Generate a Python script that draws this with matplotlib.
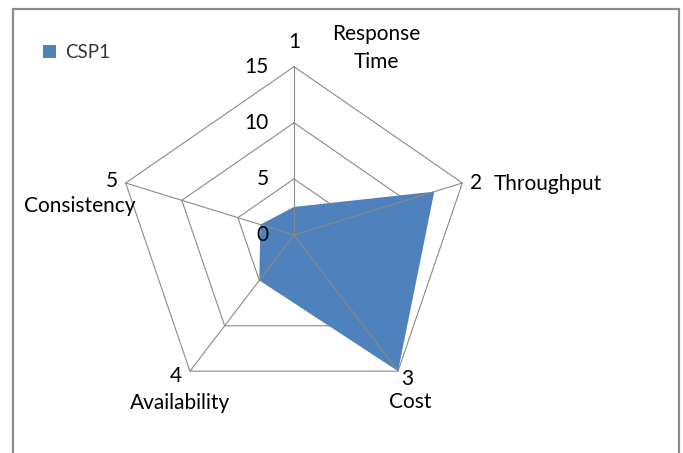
import numpy as np
import matplotlib
matplotlib.use('Agg')
import matplotlib.pyplot as plt
from matplotlib.patches import Rectangle

# datos
categorias = ['Response\nTime', 'Throughput', 'Cost', 'Availability', 'Consistency']
ejes = ['1', '2', '3', '4', '5']
csp1 = [2.5, 12.5, 15, 5, 3]
ticks = [0, 5, 10, 15]

plt.rcParams['font.family'] = ['Lato', 'DejaVu Sans']

W, H = 683, 453
fig = plt.figure(figsize=(W / 100, H / 100), dpi=100)
ax = fig.add_axes([0, 0, 1, 1])
ax.axis('off')

# escala en pixeles (la imagen original esta algo estirada en horizontal)
cx, cy = 294, 218          # centro desde abajo-izquierda
px_y = 168.3 / 15
px_x = 177.0 / 15
ax.set_xlim(-cx / px_x, (W - cx) / px_x)
ax.set_ylim(-cy / px_y, (H - cy) / px_y)

n = len(categorias)
ang = np.pi / 2 - 2 * np.pi * np.arange(n) / n
gris = '#8a8a8a'
azul = '#4f81bd'
fs = 15

# anillos
rmax = max(ticks)
for t in ticks[1:]:
    xs = np.append(t * np.cos(ang), t * np.cos(ang[0]))
    ys = np.append(t * np.sin(ang), t * np.sin(ang[0]))
    ax.plot(xs, ys, color=gris, lw=0.8, zorder=1)

# serie
v = np.array(csp1, dtype=float)
ax.fill(v * np.cos(ang), v * np.sin(ang), color=azul, lw=0, zorder=2, label='CSP1')

# radios
for a in ang:
    ax.plot([0, rmax * np.cos(a)], [0, rmax * np.sin(a)], color=gris, lw=0.8, zorder=3)

# etiquetas de ticks
for t in ticks:
    ax.annotate(str(t), (0, t), xytext=(-25, 0), textcoords='offset pixels',
                ha='right', va='center', fontsize=fs, color='black')

# numeros de eje y nombres
off_num = [(0, 25), (14, 0), (9, -8), (-14, -5), (-14, 2)]
off_cat = [(82, 19), (31, -1), (12, -31), (-10, -32), (-46, -23)]
ha_cat = ['center', 'left', 'center', 'center', 'center']
for i in range(n):
    xv, yv = rmax * np.cos(ang[i]), rmax * np.sin(ang[i])
    ax.annotate(ejes[i], (xv, yv), xytext=off_num[i], textcoords='offset pixels',
                ha='center', va='center', fontsize=fs)
    ax.annotate(categorias[i], (xv, yv), xytext=off_cat[i], textcoords='offset pixels',
                ha=ha_cat[i], va='center', fontsize=fs, linespacing=1.5)

leg = ax.legend(loc='upper left', bbox_to_anchor=(43 / W, 1 - 44 / H),
                bbox_transform=fig.transFigure, frameon=False, fontsize=13.5,
                handlelength=0.7, handleheight=0.7, handletextpad=0.5,
                borderpad=0, borderaxespad=0)
for txt in leg.get_texts():
    txt.set_color('#333333')

# marco
fig.add_artist(Rectangle((13 / W, -0.05), (679 - 13) / W, 1.05 - 9 / H,
                         transform=fig.transFigure, fill=False,
                         edgecolor='#8c8c8c', lw=1.6))

fig.savefig('out.png', dpi=100)
